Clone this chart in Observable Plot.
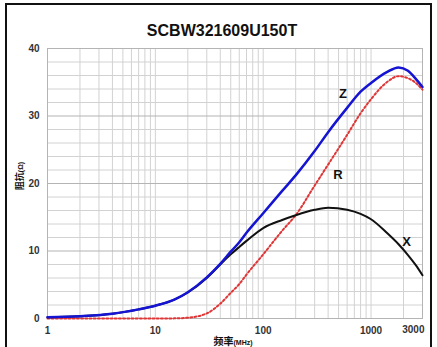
<!DOCTYPE html>
<html>
<head>
<meta charset="utf-8">
<script src="https://cdn.jsdelivr.net/npm/d3@7"></script>
<script src="https://cdn.jsdelivr.net/npm/@observablehq/plot@0.6"></script>
<style>
  html, body { margin: 0; padding: 0; background: #fff; }
  body { width: 437px; height: 347px; position: relative; overflow: hidden; font-family: "Liberation Sans", Arial, sans-serif; }
  #box { position: absolute; left: 5px; top: 3px; width: 423px; height: 400px; border: 2px solid #111; border-bottom: none; }
  #title { position: absolute; left: 222px; top: 23px; transform: translateX(-50%); font-size: 16px; line-height: 16px; font-weight: bold; color: #111; white-space: nowrap; }
  #chart { position: absolute; left: 0; top: 0; }
  #xlab { position: absolute; left: 233px; top: 335px; transform: translateX(-50%); white-space: nowrap; line-height: 10px; color: #111; font-weight: bold; }
  #ylab { position: absolute; left: 19px; top: 176px; transform: translate(-50%, -50%) rotate(-90deg); white-space: nowrap; line-height: 9px; color: #111; font-weight: bold; }
  .cjk { font-family: "Noto Sans CJK SC", sans-serif; }
</style>
</head>
<body>
<div id="box"></div>
<div id="chart"></div>
<div id="title">SCBW321609U150T</div>
<div id="ylab"><span class="cjk" style="font-size:9px">阻抗</span><span style="font-size:7px">(Ω)</span></div>
<div id="xlab"><span class="cjk" style="font-size:10px">频率</span><span style="font-size:7px">(MHz)</span></div>
<script>
// Frequencies (MHz) and impedance readings (Ω)
const freq  = [1, 2, 4, 7, 10, 15, 20, 30, 40, 50, 60, 70, 100, 150, 200, 300, 400, 600, 800, 1000, 1400, 1800, 2200, 2600, 3000];
const zVals = [0.2, 0.35, 0.7, 1.35, 1.9, 2.8, 3.9, 6.1, 8.1, 9.9, 11.3, 12.7, 15.6, 18.9, 21.2, 24.8, 27.6, 31.2, 33.6, 34.9, 36.5, 37.2, 36.7, 35.5, 34.3];
const rVals = [0, 0, 0, 0, 0, 0.02, 0.12, 0.75, 2.2, 3.8, 5.1, 6.5, 9.5, 13.0, 15.3, 19.7, 22.8, 27.2, 30.4, 32.5, 35.0, 35.9, 35.6, 34.9, 33.9];
const xVals = [0.2, 0.35, 0.7, 1.35, 1.9, 2.8, 3.85, 6.0, 8.0, 9.5, 10.6, 11.5, 13.4, 14.6, 15.3, 16.1, 16.4, 16.1, 15.5, 14.7, 12.7, 11.0, 9.4, 7.9, 6.4];

const xTicks = [1, 10, 100, 1000];
const xEndTick = [3000];
const yTicks = [0, 10, 20, 30, 40];
const gridY = [2, 4, 6, 8, 12, 14, 16, 18, 22, 24, 26, 28, 32, 34, 36, 38];
const gridYMajor = [10, 20, 30];
const gridX = [2, 3, 4, 5, 6, 7, 8, 9, 10, 20, 30, 40, 50, 60, 70, 80, 90, 100, 200, 300, 400, 500, 600, 700, 800, 900, 1000, 2000];

const curveNames = ["Z", "R", "X"];
const labelFreq = [550, 494, 2133];
const labelVal = [33.3, 21.3, 11.3];

const zData = freq.map((f, i) => ({f, v: zVals[i]}));
const rData = freq.map((f, i) => ({f, v: rVals[i]}));
const xData = freq.map((f, i) => ({f, v: xVals[i]}));
const labels = curveNames.map((t, i) => ({t, f: labelFreq[i], v: labelVal[i]}));

const tickStyle = {tickSize: 0, fontWeight: "bold", fontSize: 10, fill: "#333", label: null, tickFormat: d => String(d)};

const chart = Plot.plot({
  width: 437,
  height: 347,
  marginLeft: 47,
  marginRight: 15,
  marginTop: 48,
  marginBottom: 29,
  style: {fontFamily: "'Liberation Sans', Arial, sans-serif", background: "transparent", overflow: "visible"},
  x: {type: "log", domain: [1, 3000]},
  y: {domain: [0, 40]},
  marks: [
    Plot.ruleY(gridY, {stroke: "#d2d2d2", strokeWidth: 1}),
    Plot.ruleX(gridX, {stroke: "#d2d2d2", strokeWidth: 1}),
    Plot.ruleY(gridYMajor, {stroke: "#b4b4b4", strokeWidth: 1.2}),
    Plot.frame({stroke: "#b4b4b4"}),
    Plot.axisX(xTicks, {...tickStyle, tickPadding: 8}),
    Plot.text(xEndTick, {x: d => d, text: d => String(d), frameAnchor: "bottom", lineAnchor: "top", textAnchor: "end", dy: 7, dx: 2, fontWeight: "bold", fontSize: 10, fill: "#333"}),
    Plot.axisY(yTicks, {...tickStyle, tickPadding: 8}),
    Plot.line(rData, {x: "f", y: "v", stroke: "#e03535", strokeWidth: 2, strokeDasharray: "2,2.2", curve: "monotone-x"}),
    Plot.line(xData, {x: "f", y: "v", stroke: "#111", strokeWidth: 2, curve: "monotone-x"}),
    Plot.line(zData, {x: "f", y: "v", stroke: "#1414d2", strokeWidth: 2.5, curve: "monotone-x"}),
    Plot.text(labels, {x: "f", y: "v", text: "t", fontWeight: "bold", fontSize: 13, fill: "#111"})
  ]
});
document.getElementById("chart").appendChild(chart);
</script>
</body>
</html>
